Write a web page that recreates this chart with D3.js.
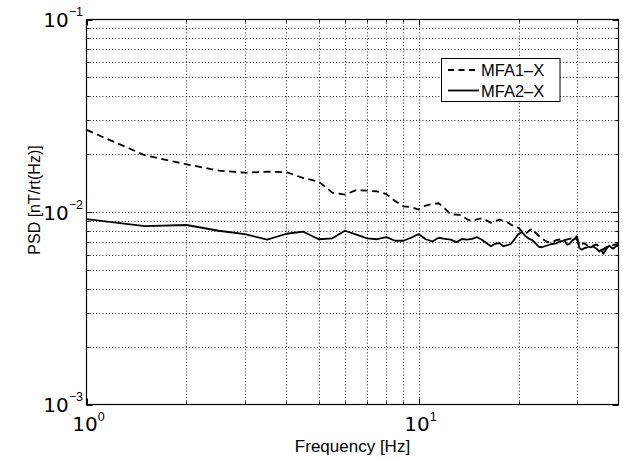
<!DOCTYPE html>
<html>
<head>
<meta charset="utf-8">
<script src="https://cdn.jsdelivr.net/npm/d3@7"></script>
<style>
  html, body { margin: 0; padding: 0; background: #fff; }
  svg { display: block; }
</style>
</head>
<body>
<svg id="chart" width="623" height="459"></svg>
<script>
// ---- data ----
const freqs = [1, 1.5, 2, 2.5, 3, 3.5, 4, 4.5, 5, 5.5, 6, 6.5, 7, 7.5, 8, 8.5, 9, 9.5, 10,
  10.5, 11, 11.5, 12, 12.5, 13, 13.5, 14, 14.5, 15, 15.5, 16, 16.5, 17, 17.5, 18, 18.5, 19, 19.5, 20,
  20.5, 21, 21.5, 22, 22.5, 23, 23.5, 24, 24.5, 25, 25.5, 26, 26.5, 27, 27.5, 28, 28.5, 29, 29.5, 30,
  30.5, 31, 31.5, 32, 32.5, 33, 33.5, 34, 34.5, 35, 35.5, 36, 36.5, 37, 37.5, 38, 38.5, 39, 39.5, 40];

const mfa1 = [0.0267, 0.0197, 0.0177, 0.0164, 0.0160, 0.0162, 0.0161, 0.0150, 0.0144, 0.0126,
  0.0123, 0.0130, 0.0129, 0.0128, 0.0124, 0.0114, 0.0107, 0.0106, 0.0103,
  0.0108, 0.0110, 0.0111, 0.0104, 0.00973, 0.00968, 0.00963, 0.00917, 0.00895, 0.00917, 0.00928,
  0.00906, 0.00880, 0.00895, 0.00912, 0.00900, 0.00885, 0.00859, 0.00839, 0.00829,
  0.00790, 0.00771, 0.00799, 0.00819, 0.00780, 0.00753, 0.00728, 0.00712, 0.00696, 0.00705, 0.00704,
  0.00714, 0.00718, 0.00722, 0.00718, 0.00718, 0.00726, 0.00730, 0.00735, 0.00718,
  0.00668, 0.00684, 0.00688, 0.00676, 0.00663, 0.00665, 0.00668, 0.00676, 0.00676, 0.00656, 0.00645,
  0.00637, 0.00652, 0.00660, 0.00663, 0.00668, 0.00672, 0.00676, 0.00680, 0.00684];

const mfa2 = [0.00919, 0.00844, 0.00856, 0.00799, 0.00767, 0.00718, 0.00771, 0.00790, 0.00722, 0.00730,
  0.00799, 0.00762, 0.00730, 0.00722, 0.00740, 0.00709, 0.00709, 0.00735, 0.00768,
  0.00722, 0.00703, 0.00735, 0.00726, 0.00718, 0.00697, 0.00724, 0.00718, 0.00726, 0.00740, 0.00718,
  0.00690, 0.00664, 0.00684, 0.00690, 0.00664, 0.00672, 0.00684, 0.00726, 0.00771,
  0.00785, 0.00749, 0.00726, 0.00714, 0.00688, 0.00660, 0.00656, 0.00664, 0.00672, 0.00680, 0.00684,
  0.00688, 0.00701, 0.00705, 0.00714, 0.00676, 0.00684, 0.00709, 0.00726, 0.00749,
  0.00650, 0.00637, 0.00649, 0.00652, 0.00660, 0.00655, 0.00664, 0.00652, 0.00641, 0.00622, 0.00637,
  0.00607, 0.00630, 0.00652, 0.00668, 0.00656, 0.00645, 0.00656, 0.00668, 0.00664];

const seriesNames = ["MFA1\u2013X", "MFA2\u2013X"];
const xMajor = [1, 10];
const xMinor = [2, 3, 4, 5, 6, 7, 8, 9, 20, 30];
const xTickExp = ["0", "1"];
const yMajor = [1e-3, 1e-2, 1e-1];
const yMinor = [2e-3, 3e-3, 4e-3, 5e-3, 6e-3, 7e-3, 8e-3, 9e-3, 2e-2, 3e-2, 4e-2, 5e-2, 6e-2, 7e-2, 8e-2, 9e-2];
const yTickExp = ["\u22123", "\u22122", "\u22121"];
const xTitle = "Frequency [Hz]";
const yTitle = "PSD [nT/rt(Hz)]";

// ---- layout ----
const L = 86.5, R = 618.5, T = 19.5, B = 404.5;
const svg = d3.select("#chart");
svg.append("rect").attr("width", 623).attr("height", 459).attr("fill", "#fff");

const x = d3.scaleLog().domain([1, 40]).range([L, R]);
const y = d3.scaleLog().domain([1e-3, 1e-1]).range([B, T]);

// grid
const grid = svg.append("g").attr("stroke", "#111").attr("stroke-width", 0.9)
  .attr("stroke-dasharray", "1,2.2").attr("fill", "none");
const xGridVals = xMinor.concat([10]);
grid.selectAll("line.gx").data(xGridVals).join("line")
  .attr("x1", d => Math.round(x(d)) + 0.5).attr("x2", d => Math.round(x(d)) + 0.5)
  .attr("y1", T).attr("y2", B);
const yGridVals = yMinor.concat([1e-2]);
grid.selectAll("line.gy").data(yGridVals).join("line")
  .attr("y1", d => Math.round(y(d)) + 0.5).attr("y2", d => Math.round(y(d)) + 0.5)
  .attr("x1", L).attr("x2", R);

// ticks (inward, all sides)
const ticks = svg.append("g").attr("stroke", "#000").attr("stroke-width", 1);
const xt = xMajor.map(v => ({v, len: 6})).concat(xMinor.map(v => ({v, len: 3})));
xt.forEach(t => {
  const px = Math.round(x(t.v)) + 0.5;
  ticks.append("line").attr("x1", px).attr("x2", px).attr("y1", B).attr("y2", B - t.len);
  ticks.append("line").attr("x1", px).attr("x2", px).attr("y1", T).attr("y2", T + t.len);
});
const yt = yMajor.map(v => ({v, len: 6})).concat(yMinor.map(v => ({v, len: 3})));
yt.forEach(t => {
  const py = Math.round(y(t.v)) + 0.5;
  ticks.append("line").attr("y1", py).attr("y2", py).attr("x1", L).attr("x2", L + t.len);
  ticks.append("line").attr("y1", py).attr("y2", py).attr("x1", R).attr("x2", R - t.len);
});

// clip
svg.append("clipPath").attr("id", "clip").append("rect")
  .attr("x", L).attr("y", T).attr("width", R - L).attr("height", B - T);

const line = d3.line().x(d => x(d[0])).y(d => y(d[1]));
const plot = svg.append("g").attr("clip-path", "url(#clip)");
plot.append("path").datum(freqs.map((f, i) => [f, mfa1[i]]))
  .attr("d", line).attr("fill", "none").attr("stroke", "#000")
  .attr("stroke-width", 1.8).attr("stroke-dasharray", "7,4.5");
plot.append("path").datum(freqs.map((f, i) => [f, mfa2[i]]))
  .attr("d", line).attr("fill", "none").attr("stroke", "#000")
  .attr("stroke-width", 1.8).attr("stroke-linejoin", "round");

// frame
svg.append("rect").attr("x", L).attr("y", T).attr("width", R - L).attr("height", B - T)
  .attr("fill", "none").attr("stroke", "#000").attr("stroke-width", 1.2);

// tick labels
function powLabel(sel, px, py, anchor, exp, dy) {
  const t = sel.append("text").attr("x", px).attr("y", py).attr("text-anchor", anchor).attr("fill", "#000");
  t.append("tspan").attr("font-family", "DejaVu Sans").attr("font-size", 20).text("10");
  t.append("tspan").attr("font-family", "Liberation Sans, Arial").attr("font-size", 12.5)
    .attr("dy", dy).text(exp);
}
const labels = svg.append("g");
xMajor.forEach((v, i) => powLabel(labels, x(v) + 2, 431, "middle", xTickExp[i], -10));
yMajor.forEach((v, i) => powLabel(labels, 83, y(v) + 7.5, "end", yTickExp[i], -11));

// axis titles
svg.append("text").attr("x", (L + R) / 2).attr("y", 452).attr("text-anchor", "middle")
  .attr("font-family", "Liberation Sans, Arial").attr("font-size", 17).text(xTitle);
svg.append("text").attr("transform", "translate(39.5,200) rotate(-90)").attr("text-anchor", "middle")
  .attr("font-family", "Liberation Sans, Arial").attr("font-size", 16).text(yTitle);

// legend
const lg = svg.append("g");
lg.append("rect").attr("x", 441.5).attr("y", 58.5).attr("width", 118.5).attr("height", 43)
  .attr("fill", "#fff").attr("stroke", "#000").attr("stroke-width", 1);
const legendRows = [{name: seriesNames[0], dash: "6,4.5", yy: 70}, {name: seriesNames[1], dash: null, yy: 90.5}];
legendRows.forEach(r => {
  const l = lg.append("line").attr("x1", 448).attr("x2", 479).attr("y1", r.yy).attr("y2", r.yy)
    .attr("stroke", "#000").attr("stroke-width", 1.8);
  if (r.dash) l.attr("stroke-dasharray", r.dash);
  lg.append("text").attr("x", 481).attr("y", r.yy + 6).attr("font-family", "Liberation Sans, Arial")
    .attr("font-size", 16.5).text(r.name);
});
</script>
</body>
</html>
